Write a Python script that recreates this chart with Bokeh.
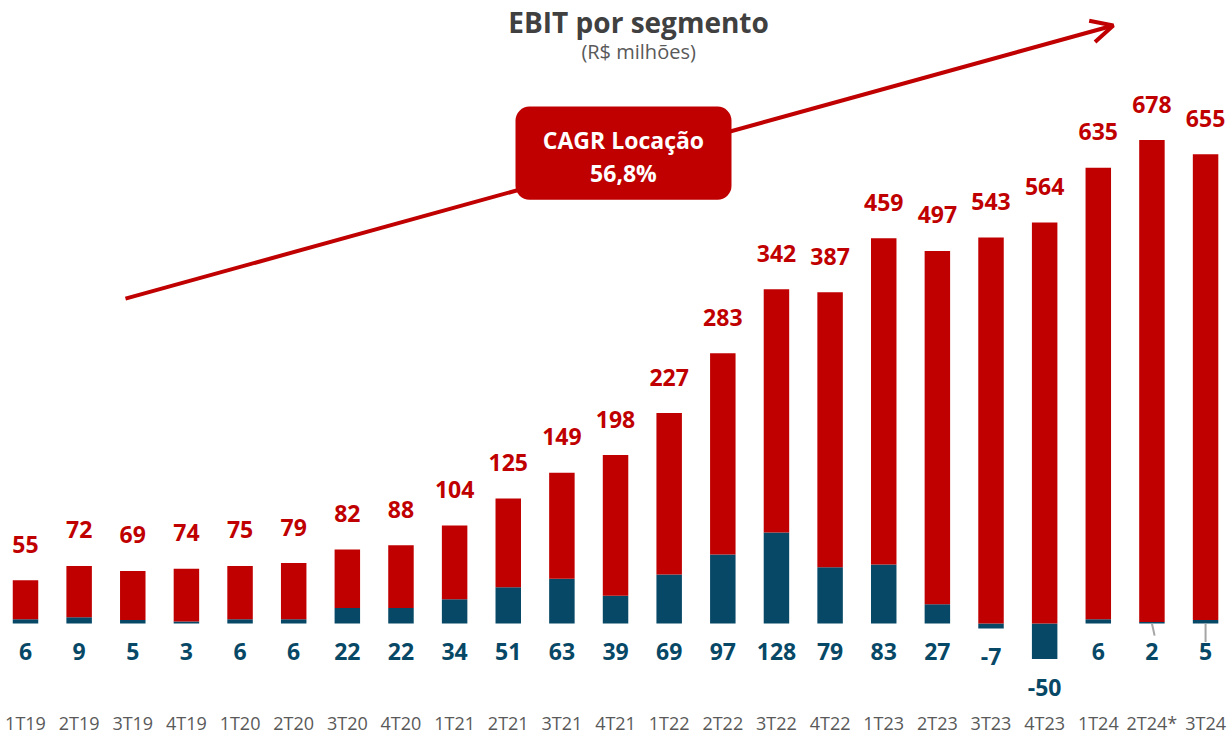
from bokeh.plotting import figure
from bokeh.models import (Range1d, FixedTicker, Label, Arrow, OpenHead, BoxAnnotation,
                          ColumnDataSource)
from bokeh.core.properties import value
from bokeh.embed import file_html
from bokeh.resources import INLINE

categories = ["1T19", "2T19", "3T19", "4T19", "1T20", "2T20", "3T20", "4T20",
              "1T21", "2T21", "3T21", "4T21", "1T22", "2T22", "3T22", "4T22",
              "1T23", "2T23", "3T23", "4T23", "1T24", "2T24*", "3T24"]
locacao = [55, 72, 69, 74, 75, 79, 82, 88, 104, 125, 149, 198, 227, 283, 342, 387,
           459, 497, 543, 564, 635, 678, 655]
outros = [6, 9, 5, 3, 6, 6, 22, 22, 34, 51, 63, 39, 69, 97, 128, 79,
          83, 27, -7, -50, 6, 2, 5]

RED = "#C00000"
BLUE = "#074866"
FONT = "Open Sans"

n = len(categories)
xs = list(range(n))
blue_bottom = [min(0, b) for b in outros]
blue_top = [max(0, b) for b in outros]
red_bottom = blue_top
red_top = [bt + r for bt, r in zip(blue_top, locacao)]

src = ColumnDataSource(dict(
    x=xs, cat=categories, loc=locacao, out=outros,
    bb=blue_bottom, bt=blue_top, rb=red_bottom, rt=red_top,
    loc_txt=[str(v) for v in locacao], out_txt=[str(v) for v in outros],
))

p = figure(frame_width=1232, frame_height=708, title=None,
           output_backend="svg", toolbar_location=None,
           x_range=Range1d(-0.466, 22.502), y_range=Range1d(-119.5, 876.2),
           min_border_left=0, min_border_right=0, min_border_top=0,
           min_border_bottom=25, outline_line_color=None)
p.grid.visible = False
p.yaxis.visible = False

xa = p.xaxis[0]
xa.ticker = FixedTicker(ticks=xs)
xa.major_label_overrides = {i: c for i, c in enumerate(categories)}
xa.axis_line_color = None
xa.major_tick_line_color = None
xa.minor_tick_line_color = None
xa.major_tick_out = 0
xa.major_tick_in = 0
xa.minor_tick_out = 0
xa.minor_tick_in = 0
xa.major_label_standoff = 2
xa.major_label_text_font = FONT
xa.major_label_text_font_size = "18px"
xa.major_label_text_color = "#595959"

W = 0.475
p.vbar(x="x", bottom="bb", top="bt", width=W, source=src, fill_color=BLUE,
       line_color=None)
p.vbar(x="x", bottom="rb", top="rt", width=W, source=src, fill_color=RED,
       line_color=None)

p.text(x="x", y="rt", text="loc_txt", source=src, text_align="center",
       text_baseline="middle", y_offset=-36, text_font=value(FONT),
       text_font_style="bold", text_font_size="23px", text_color=RED)
p.text(x="x", y="bb", text="out_txt", source=src, text_align="center",
       text_baseline="middle", y_offset=28, text_font=value(FONT),
       text_font_style="bold", text_font_size="23px", text_color=BLUE)

# leader lines for the two small labels at the end
p.segment(x0=[n - 2, n - 1], y0=[0, 0], x1=[n - 2 + 0.05, n - 1], y1=[-17, -26],
          line_color="#A6A6A6", line_width=2)

# trend arrow
p.add_layout(Arrow(x_start=1.864, y_start=457, x_end=20.28, y_end=841,
                   line_color=RED, line_width=4,
                   end=OpenHead(size=22, line_color=RED, line_width=4)))

# CAGR callout
p.add_layout(BoxAnnotation(left=9.135, right=13.162, bottom=596, top=727,
                           fill_color=RED, fill_alpha=1.0, line_color=None,
                           border_radius=14))
p.add_layout(Label(x=11.148, y=680, text="CAGR Locação", text_align="center",
                   text_baseline="middle", text_font=FONT, text_font_style="bold",
                   text_font_size="23px", text_color="white"))
p.add_layout(Label(x=11.148, y=633, text="56,8%", text_align="center",
                   text_baseline="middle", text_font=FONT, text_font_style="bold",
                   text_font_size="23px", text_color="white"))

# title & subtitle
p.add_layout(Label(x=11.43, y=846, text="EBIT por segmento", text_align="center",
                   text_baseline="middle", text_font=FONT, text_font_style="bold",
                   text_font_size="28px", text_color="#404040"))
p.add_layout(Label(x=11.43, y=804, text="(R$ milhões)", text_align="center",
                   text_baseline="middle", text_font=FONT,
                   text_font_size="20px", text_color="#595959"))

open("out.html", "w").write(file_html(p, INLINE))
